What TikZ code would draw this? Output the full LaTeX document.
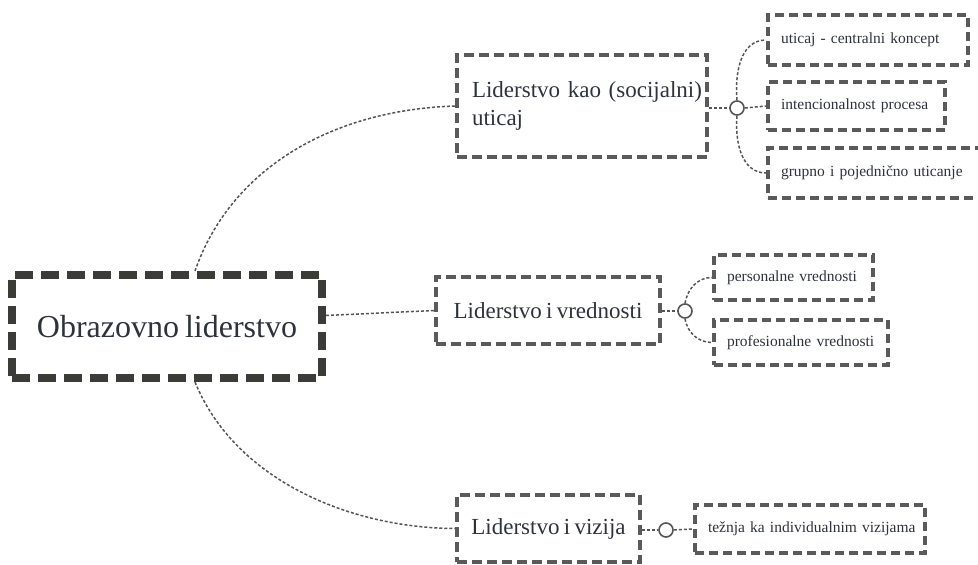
\documentclass[tikz,border=0pt]{standalone}
\usepackage{fontspec}
\setmainfont[WordSpace=0.75]{Liberation Serif}
\definecolor{ink}{HTML}{2E333B}
\definecolor{rootline}{HTML}{3B3B38}
\definecolor{boxline}{HTML}{5A5A5A}
\definecolor{wire}{HTML}{555555}
\tikzset{
  rootbox/.style={draw=rootline, line width=8pt, dash pattern=on 18pt off 8pt,
    minimum width=#1, inner sep=0pt, text=ink, font=\fontsize{32}{36}\selectfont},
  topicbox/.style={draw=boxline, line width=4pt, dash pattern=on 10pt off 5pt,
    inner sep=0pt, text=ink, font=\fontsize{23}{28}\selectfont},
  leafbox/.style={draw=boxline, line width=4pt, dash pattern=on 9pt off 5pt,
    inner sep=0pt, text=ink, font=\fontsize{15.5}{19}\selectfont,
    minimum width=#1, text width=#1-26pt, align=left},
  wireline/.style={draw=wire, line width=1.5pt, dash pattern=on 3pt off 2pt},
  hub/.style={circle, draw=wire, line width=1.6pt, fill=white, minimum size=14pt, inner sep=0pt},
}
\begin{document}
\begin{tikzpicture}[x=1pt,y=-1pt]
\useasboundingbox (0,0) rectangle (978,565);

% main topic
\node[rootbox=310pt, minimum height=103pt] (root) at (167,326.5) {Obrazovno liderstvo};

% second-level topics
\node[topicbox, minimum width=250pt, minimum height=102pt, text width=220pt, align=left] (inf) at (582,106)
  {\mbox{Liderstvo kao (socijalni)}\\uticaj};
\node[topicbox, minimum width=224pt, minimum height=67pt] (val) at (548,310.5) {Liderstvo i vrednosti};
\node[topicbox, minimum width=183pt, minimum height=67pt] (vis) at (548.5,528.5) {Liderstvo i vizija};

% leaves
\node[leafbox=200pt, minimum height=50pt] (la) at (868,40) {\mbox{uticaj - centralni koncept}};
\node[leafbox=177pt, minimum height=48pt] (lb) at (856.5,106) {\mbox{intencionalnost procesa}};
\node[leafbox=216pt, minimum height=50pt] (lc) at (876,173) {\mbox{grupno i pojednično uticanje}};
\node[leafbox=159pt, minimum height=45pt] (ld) at (793.5,277.5) {\mbox{personalne vrednosti}};
\node[leafbox=174pt, minimum height=45pt] (le) at (801,342.5) {\mbox{profesionalne vrednosti}};
\node[leafbox=230pt, minimum height=48pt] (lf) at (810,529) {\mbox{težnja ka individualnim vizijama}};

% hubs
\node[hub] (h1) at (737,108) {};
\node[hub] (h2) at (685,311) {};
\node[hub] (h3) at (666,530) {};

% root connectors
\draw[wireline] ([xshift=28pt]root.north) .. controls (230,170) and (330,110) .. (inf.west);
\draw[wireline] ([yshift=11pt]root.east) -- (val.west);
\draw[wireline] ([xshift=28pt]root.south) .. controls (235,480) and (350,528) .. (vis.west);

% hub connectors
\draw[wireline] (inf.east |- h1) -- (h1.west);
\draw[wireline] (h1.north) to[out=95,in=180] (la.west);
\draw[wireline] (h1.east) -- (lb.west);
\draw[wireline] (h1.south) to[out=-95,in=180] (lc.west);

\draw[wireline] (val.east |- h2) -- (h2.west);
\draw[wireline] (h2.north) to[out=80,in=180] (ld.west);
\draw[wireline] (h2.south) to[out=-80,in=180] (le.west);

\draw[wireline] (vis.east |- h3) -- (h3.west);
\draw[wireline] (h3.east) -- (lf.west);
\end{tikzpicture}
\end{document}
